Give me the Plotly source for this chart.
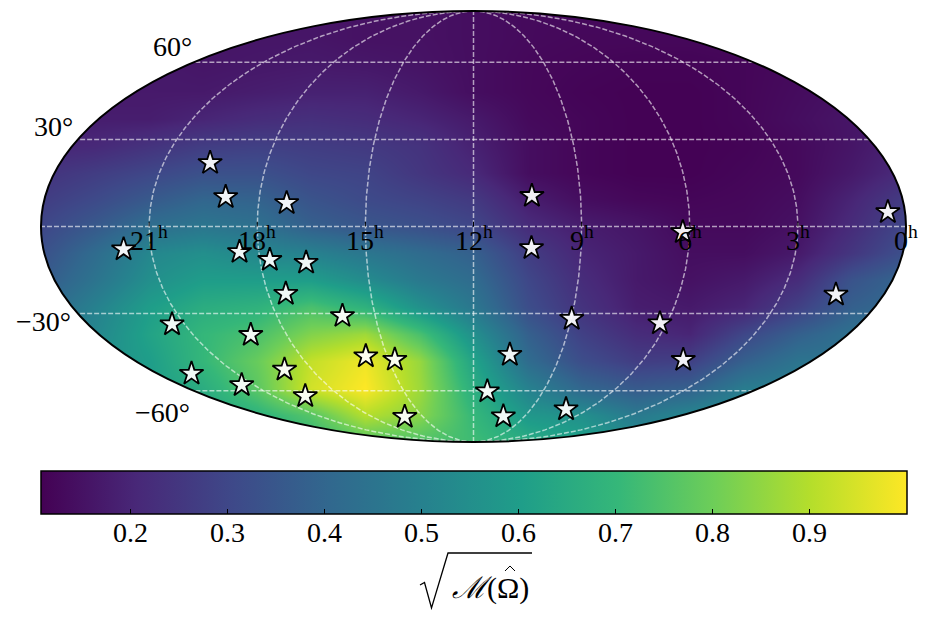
import numpy as np
import plotly.graph_objects as go

# Map plane: x and y run from -1 to 1 across the Mollweide ellipse
GRID_X = [round(-1 + 0.125 * i, 3) for i in range(17)]
GRID_Y = [round(1 - 0.125 * i, 3) for i in range(17)]
SKY_VALUES = [
    [.17,.17,.17,.17,.16,.16,.15,.15,.14,.13,.13,.13,.13,.13,.14,.14,.14],
    [.17,.17,.17,.16,.16,.16,.15,.15,.14,.13,.125,.125,.125,.13,.135,.14,.14],
    [.17,.17,.17,.16,.165,.17,.165,.155,.14,.125,.12,.115,.115,.12,.13,.14,.15],
    [.17,.17,.17,.17,.18,.19,.19,.17,.14,.125,.115,.11,.11,.12,.135,.15,.16],
    [.18,.18,.18,.2,.22,.23,.22,.2,.17,.13,.12,.11,.11,.12,.14,.16,.18],
    [.2,.21,.24,.27,.28,.27,.26,.24,.19,.14,.12,.11,.11,.115,.13,.16,.2],
    [.24,.27,.3,.33,.33,.3,.29,.25,.21,.14,.12,.11,.11,.12,.13,.17,.22],
    [.27,.31,.36,.4,.39,.34,.31,.29,.26,.18,.14,.125,.12,.125,.14,.2,.27],
    [.3,.36,.43,.46,.44,.38,.35,.33,.3,.22,.18,.16,.13,.13,.15,.22,.3],
    [.33,.42,.52,.55,.52,.5,.46,.42,.38,.27,.2,.17,.14,.14,.17,.25,.33],
    [.36,.45,.55,.6,.6,.6,.54,.47,.42,.3,.22,.17,.15,.17,.22,.34,.4],
    [.4,.5,.6,.66,.68,.74,.68,.56,.46,.32,.24,.18,.17,.2,.28,.38,.42],
    [.45,.52,.62,.7,.74,.83,.87,.74,.55,.38,.28,.22,.2,.3,.38,.44,.45],
    [.5,.55,.6,.7,.79,.92,.98,.86,.62,.42,.32,.27,.28,.38,.45,.45,.5],
    [.5,.55,.6,.66,.77,.94,1.0,.87,.66,.5,.4,.36,.38,.48,.5,.5,.5],
    [.5,.55,.6,.62,.68,.76,.9,.84,.7,.58,.55,.47,.52,.55,.55,.55,.55],
    [.5,.55,.6,.62,.65,.68,.76,.75,.72,.66,.62,.55,.55,.55,.55,.55,.55],
]
STAR_X = [-0.609,-0.573,-0.432,0.135,0.958,0.484,-0.809,-0.541,-0.471,-0.387,
          -0.434,-0.303,-0.697,-0.515,-0.249,-0.182,-0.437,-0.652,-0.536,-0.389,
          -0.159,0.134,0.227,0.431,0.838,0.084,0.485,0.032,0.069,0.214]
STAR_Y = [0.295,0.137,0.109,0.142,0.067,-0.026,-0.106,-0.118,-0.155,-0.168,
          -0.312,-0.415,-0.454,-0.503,-0.602,-0.618,-0.664,-0.683,-0.736,-0.787,
          -0.883,-0.100,-0.428,-0.449,-0.316,-0.595,-0.619,-0.765,-0.881,-0.848]
RA_HOURS = [21, 18, 15, 12, 9, 6, 3, 0]
DEC_DEGREES = [60, 30, 0, -30, -60]
DEC_LABELS = ["60°", "30°", "0°", "−30°", "−60°"]
DEC_LABEL_X = [-0.697, -0.97, -1.039, -0.995, -0.718]
DEC_LABEL_Y = [0.837, 0.466, 0.007, -0.443, -0.865]
CBAR_TICKS = [0.2, 0.3, 0.4, 0.5, 0.6, 0.7, 0.8, 0.9]
ZMIN, ZMAX = 0.108, 1.0

W, H = 946, 621
ML, MR, MT, MB = 33, 32, 6, 174
PW, PH = W - ML - MR, H - MT - MB
HALF_W, HALF_H = 432.5, 215.5
XR = (PW / 2) / HALF_W
YR = (PH / 2) / HALF_H
FONT = "Liberation Serif"
BAR_LEFT, BAR_LEN = 41, 866


def mollweide(ra_hours, dec_deg):
    lam = np.radians((12 - np.asarray(ra_hours, float)) * 15)
    phi = np.radians(np.asarray(dec_deg, float))
    th = phi.copy()
    for _ in range(60):
        d = 2 + 2 * np.cos(2 * th)
        d = np.where(np.abs(d) < 1e-9, 1e-9, d)
        th = th - (2 * th + np.sin(2 * th) - np.pi * np.sin(phi)) / d
    return lam / np.pi * np.cos(th), np.sin(th)


def xpx(px):
    return (px - ML) / PW


def ypx(py):
    return (MT + PH - py) / PH


fig = go.Figure()
fig.add_trace(go.Heatmap(
    x=GRID_X, y=GRID_Y, z=SKY_VALUES, zmin=ZMIN, zmax=ZMAX, zsmooth="best",
    colorscale="Viridis", hoverinfo="skip",
    colorbar=dict(
        orientation="h", thicknessmode="pixels", thickness=43, lenmode="pixels", len=BAR_LEN,
        x=xpx(BAR_LEFT + BAR_LEN / 2), xanchor="center", y=ypx(471), yanchor="top", xpad=0, ypad=0,
        outlinecolor="black", outlinewidth=1.5,
        tickmode="array", tickvals=CBAR_TICKS, showticklabels=False,
        ticks="inside", ticklen=5, tickwidth=1, tickcolor="black",
    ),
))

GRID = dict(color="rgba(255,255,255,0.6)", width=1.5, dash="5px,2px")
for dec in DEC_DEGREES:
    ra = np.linspace(0, 24, 200)
    gx, gy = mollweide(ra, np.full_like(ra, dec))
    fig.add_trace(go.Scatter(x=gx, y=gy, mode="lines", line=GRID, hoverinfo="skip", showlegend=False))
for hour in RA_HOURS[:-1]:
    dec = np.linspace(-90, 90, 300)
    gx, gy = mollweide(np.full_like(dec, hour), dec)
    fig.add_trace(go.Scatter(x=gx, y=gy, mode="lines", line=GRID, hoverinfo="skip", showlegend=False))

# small axis ticks on the equator
tx, ty = [], []
for hour in RA_HOURS:
    mx, _ = mollweide(np.array([hour]), np.array([0.0]))
    tx += [float(mx[0]), float(mx[0]), None]
    ty += [0, 0.022, None]
fig.add_trace(go.Scatter(x=tx, y=ty, mode="lines", line=dict(color="black", width=1), hoverinfo="skip", showlegend=False))

fig.add_trace(go.Scatter(
    x=STAR_X, y=STAR_Y, mode="markers", hoverinfo="skip", showlegend=False,
    marker=dict(symbol="star", size=18, color="rgba(255,255,255,0.93)", line=dict(color="black", width=1.8)),
))

# white mask outside the ellipse, then the ellipse border
t = np.linspace(0, 2 * np.pi, 361)
outer = f"M {-XR*1.01},{-YR*1.01} L {XR*1.01},{-YR*1.01} L {XR*1.01},{YR*1.01} L {-XR*1.01},{YR*1.01} Z "
inner = "M " + " L ".join(f"{np.cos(a):.5f},{np.sin(a):.5f}" for a in t) + " Z"
fig.add_shape(type="path", path=outer + inner, xref="x", yref="y", fillcolor="white",
              line=dict(width=0), layer="above")
fig.add_shape(type="circle", x0=-1, x1=1, y0=-1, y1=1, xref="x", yref="y",
              line=dict(color="black", width=2), layer="above")

# radical sign and the hat of the colour bar title
rad = [(420, 585), (424.5, 582.5), (431.5, 608), (448, 553), (532, 553)]
path = "M " + " L ".join(f"{xpx(a):.5f},{ypx(b):.5f}" for a, b in rad)
fig.add_shape(type="path", path=path, xref="paper", yref="paper", line=dict(color="black", width=1.3), layer="above")
hat = [(505, 571), (510, 566), (515, 571)]
path = "M " + " L ".join(f"{xpx(a):.5f},{ypx(b):.5f}" for a, b in hat)
fig.add_shape(type="path", path=path, xref="paper", yref="paper", line=dict(color="black", width=1), layer="above")

ann = []
for hour in RA_HOURS:
    mx, _ = mollweide(np.array([hour]), np.array([0.0]))
    ann.append(dict(x=float(mx[0]), y=0, xref="x", yref="y", yshift=-12, showarrow=False,
                    text=f"{hour}<sup>h</sup>", font=dict(family=FONT, size=28, color="black")))
for lab, lx, ly in zip(DEC_LABELS, DEC_LABEL_X, DEC_LABEL_Y):
    ann.append(dict(x=lx, y=ly, xref="x", yref="y", showarrow=False, xanchor="center",
                    text=lab, font=dict(family=FONT, size=28, color="black")))
for v in CBAR_TICKS:
    ann.append(dict(x=xpx(BAR_LEFT + BAR_LEN * (v - ZMIN) / (ZMAX - ZMIN)), y=ypx(532),
                    xref="paper", yref="paper", showarrow=False, xanchor="center", yanchor="middle",
                    text=f"{v:.1f}", font=dict(family=FONT, size=28, color="black")))
ann.append(dict(x=xpx(490), y=ypx(588), xref="paper", yref="paper", showarrow=False,
                xanchor="center", yanchor="middle",
                text="<i>ℳ</i>(Ω)", font=dict(family=FONT, size=30, color="black")))

fig.update_layout(
    width=W, height=H, margin=dict(l=ML, r=MR, t=MT, b=MB, autoexpand=False),
    paper_bgcolor="white", plot_bgcolor="white", showlegend=False, annotations=ann,
    xaxis=dict(range=[-XR, XR], visible=False, fixedrange=True),
    yaxis=dict(range=[-YR, YR], visible=False, fixedrange=True),
)
fig.write_html("out.html", config={"displayModeBar": False},
               post_script="document.body.style.margin='0';document.documentElement.style.overflow='hidden';")
